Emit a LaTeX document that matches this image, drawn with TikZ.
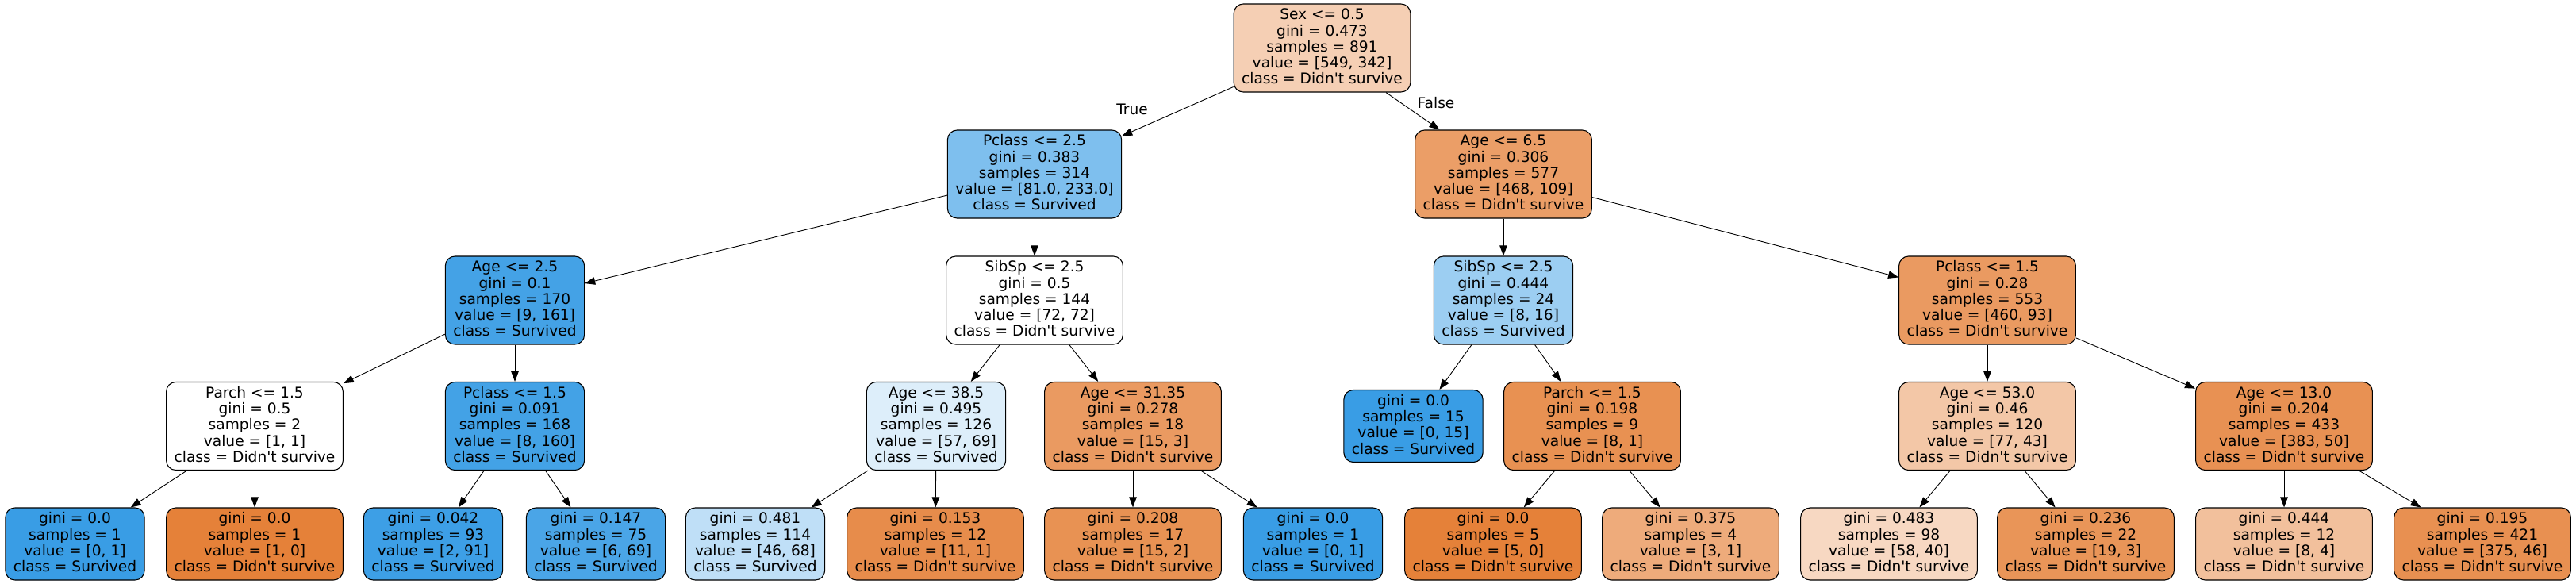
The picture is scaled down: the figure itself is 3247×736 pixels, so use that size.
\documentclass[tikz,border=0pt]{standalone}
\usepackage{fontspec}
\setmonofont{DejaVu Sans}
\usetikzlibrary{arrows.meta}
\definecolor{cRoot}{HTML}{F5CFB4}
\definecolor{cPa}{HTML}{7EBFEE}
\definecolor{cPb}{HTML}{EB9E67}
\definecolor{cA}{HTML}{44A2E6}
\definecolor{cB}{HTML}{FFFFFF}
\definecolor{cC}{HTML}{9CCEF2}
\definecolor{cD}{HTML}{EA9A61}
\definecolor{cE}{HTML}{43A2E6}
\definecolor{cF}{HTML}{DDEEFA}
\definecolor{cG}{HTML}{399DE5}
\definecolor{cH}{HTML}{E89152}
\definecolor{cI}{HTML}{F3C7A7}
\definecolor{cJ}{HTML}{E89153}
\definecolor{cO}{HTML}{E58139}
\definecolor{cL3}{HTML}{3D9FE6}
\definecolor{cL4}{HTML}{4AA5E7}
\definecolor{cL5}{HTML}{BFDFF7}
\definecolor{cL6}{HTML}{E78C4B}
\definecolor{cL7}{HTML}{E89253}
\definecolor{cL10}{HTML}{EEAB7B}
\definecolor{cL11}{HTML}{F7D8C2}
\definecolor{cL12}{HTML}{E99558}
\definecolor{cL13}{HTML}{F2C09C}
\definecolor{cL14}{HTML}{E89051}
\newcommand\mst{\rule[-4.6pt]{0pt}{18.8pt}}
\tikzset{
  tn/.style={draw=black, line width=1.1pt, rounded corners=12pt, align=center,
    inner xsep=10pt, inner ysep=0pt, minimum height=111pt,
    font=\ttfamily\fontsize{18.6}{20.25}\selectfont},
  lf/.style={tn, minimum height=91pt},
  conn/.style={line width=0.9pt, -{Triangle[length=13pt,width=9.5pt]}},
  lbl/.style={font=\ttfamily\fontsize{18.6}{20.25}\selectfont, inner sep=0pt}
}
\begin{document}
\begin{tikzpicture}[x=1pt,y=-1pt]
\useasboundingbox (0,0) rectangle (3247,736);
% level 0
\node[tn, fill=cRoot] (root) at (1666.5,60.5) {\mst Sex <= 0.5\\gini = 0.473\\samples = 891\\value = [549, 342]\\class = Didn't survive\mst};
% level 1
\node[tn, fill=cPa] (p25) at (1304,219.5) {\mst Pclass <= 2.5\\gini = 0.383\\samples = 314\\value = [81.0, 233.0]\\class = Survived\mst};
\node[tn, fill=cPb] (a65) at (1895,219.5) {\mst Age <= 6.5\\gini = 0.306\\samples = 577\\value = [468, 109]\\class = Didn't survive\mst};
% level 2
\node[tn, fill=cA] (a25) at (649,378.5) {\mst Age <= 2.5\\gini = 0.1\\samples = 170\\value = [9, 161]\\class = Survived\mst};
\node[tn, fill=cB] (s25m) at (1304,378.5) {\mst SibSp <= 2.5\\gini = 0.5\\samples = 144\\value = [72, 72]\\class = Didn't survive\mst};
\node[tn, fill=cC] (s25r) at (1895,378.5) {\mst SibSp <= 2.5\\gini = 0.444\\samples = 24\\value = [8, 16]\\class = Survived\mst};
\node[tn, fill=cD] (p15r) at (2505,378.5) {\mst Pclass <= 1.5\\gini = 0.28\\samples = 553\\value = [460, 93]\\class = Didn't survive\mst};
% level 3
\node[tn, fill=cB] (pa15l) at (321,537) {\mst Parch <= 1.5\\gini = 0.5\\samples = 2\\value = [1, 1]\\class = Didn't survive\mst};
\node[tn, fill=cE] (p15l) at (649,537) {\mst Pclass <= 1.5\\gini = 0.091\\samples = 168\\value = [8, 160]\\class = Survived\mst};
\node[tn, fill=cF] (a385) at (1180,537) {\mst Age <= 38.5\\gini = 0.495\\samples = 126\\value = [57, 69]\\class = Survived\mst};
\node[tn, fill=cD] (a3135) at (1428,537) {\mst Age <= 31.35\\gini = 0.278\\samples = 18\\value = [15, 3]\\class = Didn't survive\mst};
\node[lf, fill=cG] (g15) at (1781.5,537) {\mst gini = 0.0\\samples = 15\\value = [0, 15]\\class = Survived\mst};
\node[tn, fill=cH] (pa15r) at (2007,537) {\mst Parch <= 1.5\\gini = 0.198\\samples = 9\\value = [8, 1]\\class = Didn't survive\mst};
\node[tn, fill=cI] (a53) at (2505,537) {\mst Age <= 53.0\\gini = 0.46\\samples = 120\\value = [77, 43]\\class = Didn't survive\mst};
\node[tn, fill=cJ] (a13) at (2879,537) {\mst Age <= 13.0\\gini = 0.204\\samples = 433\\value = [383, 50]\\class = Didn't survive\mst};
% level 4
\node[lf, fill=cG] (l1) at (94.5,685.5) {\mst gini = 0.0\\samples = 1\\value = [0, 1]\\class = Survived\mst};
\node[lf, fill=cO] (l2) at (321,685.5) {\mst gini = 0.0\\samples = 1\\value = [1, 0]\\class = Didn't survive\mst};
\node[lf, fill=cL3] (l3) at (546,685.5) {\mst gini = 0.042\\samples = 93\\value = [2, 91]\\class = Survived\mst};
\node[lf, fill=cL4] (l4) at (751,685.5) {\mst gini = 0.147\\samples = 75\\value = [6, 69]\\class = Survived\mst};
\node[lf, fill=cL5] (l5) at (952,685.5) {\mst gini = 0.481\\samples = 114\\value = [46, 68]\\class = Survived\mst};
\node[lf, fill=cL6] (l6) at (1179,685.5) {\mst gini = 0.153\\samples = 12\\value = [11, 1]\\class = Didn't survive\mst};
\node[lf, fill=cL7] (l7) at (1428,685.5) {\mst gini = 0.208\\samples = 17\\value = [15, 2]\\class = Didn't survive\mst};
\node[lf, fill=cG] (l8) at (1655,685.5) {\mst gini = 0.0\\samples = 1\\value = [0, 1]\\class = Survived\mst};
\node[lf, fill=cO] (l9) at (1882,685.5) {\mst gini = 0.0\\samples = 5\\value = [5, 0]\\class = Didn't survive\mst};
\node[lf, fill=cL10] (l10) at (2131,685.5) {\mst gini = 0.375\\samples = 4\\value = [3, 1]\\class = Didn't survive\mst};
\node[lf, fill=cL11] (l11) at (2381,685.5) {\mst gini = 0.483\\samples = 98\\value = [58, 40]\\class = Didn't survive\mst};
\node[lf, fill=cL12] (l12) at (2629,685.5) {\mst gini = 0.236\\samples = 22\\value = [19, 3]\\class = Didn't survive\mst};
\node[lf, fill=cL13] (l13) at (2879,685.5) {\mst gini = 0.444\\samples = 12\\value = [8, 4]\\class = Didn't survive\mst};
\node[lf, fill=cL14] (l14) at (3129,685.5) {\mst gini = 0.195\\samples = 421\\value = [375, 46]\\class = Didn't survive\mst};
% edges
\draw[conn] (root) -- (p25);
\draw[conn] (root) -- (a65);
\node[lbl] (tlab) at (1427,138) {True};
\node[lbl] (flab) at (1810,130) {False};
\draw[conn] (p25) -- (a25);
\draw[conn] (p25) -- (s25m);
\draw[conn] (a65) -- (s25r);
\draw[conn] (a65) -- (p15r);
\draw[conn] (a25) -- (pa15l);
\draw[conn] (a25) -- (p15l);
\draw[conn] (s25m) -- (a385);
\draw[conn] (s25m) -- (a3135);
\draw[conn] (s25r) -- (g15);
\draw[conn] (s25r) -- (pa15r);
\draw[conn] (p15r) -- (a53);
\draw[conn] (p15r) -- (a13);
\draw[conn] (pa15l) -- (l1);
\draw[conn] (pa15l) -- (l2);
\draw[conn] (p15l) -- (l3);
\draw[conn] (p15l) -- (l4);
\draw[conn] (a385) -- (l5);
\draw[conn] (a385) -- (l6);
\draw[conn] (a3135) -- (l7);
\draw[conn] (a3135) -- (l8);
\draw[conn] (pa15r) -- (l9);
\draw[conn] (pa15r) -- (l10);
\draw[conn] (a53) -- (l11);
\draw[conn] (a53) -- (l12);
\draw[conn] (a13) -- (l13);
\draw[conn] (a13) -- (l14);
\end{tikzpicture}
\end{document}
